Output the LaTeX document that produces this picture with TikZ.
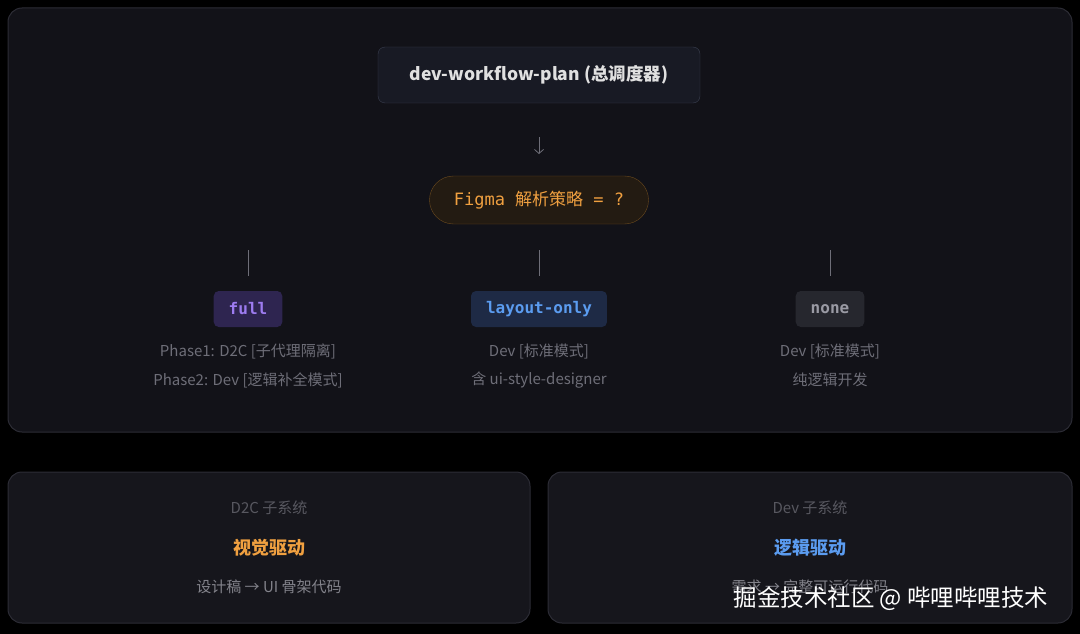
\documentclass[tikz,border=0pt]{standalone}
\usepackage{fontspec}
\setmainfont{Noto Sans CJK SC}
\setmonofont{DejaVu Sans Mono}
\newfontfamily\cjk{Noto Sans CJK SC}
\usetikzlibrary{positioning, arrows.meta}
\definecolor{bgpage}{HTML}{000000}
\definecolor{panel}{HTML}{121218}
\definecolor{panelb}{HTML}{16161C}
\definecolor{edge}{HTML}{2C2C35}
\definecolor{txtgray}{HTML}{6E6E78}
\definecolor{txtlight}{HTML}{9A9AA4}
\definecolor{orng}{HTML}{F0A040}
\definecolor{blu}{HTML}{5B9CF0}
\definecolor{purp}{HTML}{9D7CF0}
\definecolor{rootfill}{HTML}{181A24}
\definecolor{rootedge}{HTML}{3A3F50}
\definecolor{pillfill}{HTML}{231B12}
\definecolor{pilledge}{HTML}{6B4A1E}
\definecolor{fullfill}{HTML}{2E2550}
\definecolor{layoutfill}{HTML}{1E2A45}
\definecolor{nonefill}{HTML}{26272E}
\tikzset{
  card/.style={draw=edge, line width=1pt, rounded corners=14pt},
  tag/.style={rounded corners=5pt, minimum height=36pt, inner xsep=15pt, font=\ttfamily\bfseries\fontsize{16}{16}\selectfont},
  desc/.style={text=txtgray, font=\fontsize{15}{15}\selectfont},
  link/.style={draw=txtgray, line width=0.8pt}
}
\begin{document}
\begin{tikzpicture}[x=1pt, y=-1pt]
  \fill[bgpage] (0, 0) rectangle (1080, 634);
  \draw[card, fill=panel] (8, 8) rectangle (1072, 432);
  \draw[card, fill=panelb] (8, 472) rectangle (530, 623);
  \draw[card, fill=panelb] (548, 472) rectangle (1072, 623);
  % top of the tree
  \node[draw=rootedge, fill=rootfill, rounded corners=7pt, minimum width=322pt, minimum height=56pt, text=white!88!black, font=\bfseries\fontsize{17.5}{17.5}\selectfont] (plan) at (539, 75) {dev-workflow-plan (总调度器)};
  \node[draw=pilledge, fill=pillfill, rounded corners=24pt, minimum width=219pt, minimum height=48pt, text=orng, font=\ttfamily\fontsize{17}{17}\selectfont] (strategy) at (539, 200) {Figma {\cjk 解析策略} = ?};
  \coordinate (a1) at (539, 137);
  \coordinate (a2) at (539, 154);
  \draw[link, -{Straight Barb[length=4pt, width=9pt]}] (a1) -- (a2);
  % branches
  \node[tag, fill=fullfill, text=purp] (full) at (248, 309) {full};
  \node[tag, fill=layoutfill, text=blu] (layout) at (539, 309) {layout-only};
  \node[tag, fill=nonefill, text=txtlight] (none) at (830, 309) {none};
  \foreach \n/\x in {full/248, layout/539, none/830} {
    \coordinate (\n-top) at (\x, 250);
    \coordinate (\n-bot) at (\x, 276);
    \draw[link] (\n-top) -- (\n-bot);
  }
  \node[desc] (full-a) at (248, 351) {Phase1: D2C [子代理隔离]};
  \node[desc] (full-b) at (248, 380) {Phase2: Dev [逻辑补全模式]};
  \node[desc] (layout-a) at (539, 351) {Dev [标准模式]};
  \node[desc] (layout-b) at (539, 380) {含 ui-style-designer};
  \node[desc] (none-a) at (830, 351) {Dev [标准模式]};
  \node[desc] (none-b) at (830, 380) {纯逻辑开发};
  % subsystems
  \node[desc, text=txtgray!80!black] (d2c-title) at (269, 508) {D2C 子系统};
  \node[text=orng, font=\bfseries\fontsize{18}{18}\selectfont] (d2c-mode) at (269, 548) {视觉驱动};
  \node[desc, text=txtlight!85!black] (d2c-flow) at (269, 587) {设计稿 → UI 骨架代码};
  \node[desc, text=txtgray!80!black] (dev-title) at (810, 508) {Dev 子系统};
  \node[text=blu, font=\bfseries\fontsize{18}{18}\selectfont] (dev-mode) at (810, 548) {逻辑驱动};
  \node[desc, text=txtlight!85!black] (dev-flow) at (810, 587) {需求 → 完整可运行代码};
  \node[text=white, font=\fontsize{23.5}{23.5}\selectfont] (mark) at (891, 599) {掘金技术社区 @ 哔哩哔哩技术};
\end{tikzpicture}
\end{document}
